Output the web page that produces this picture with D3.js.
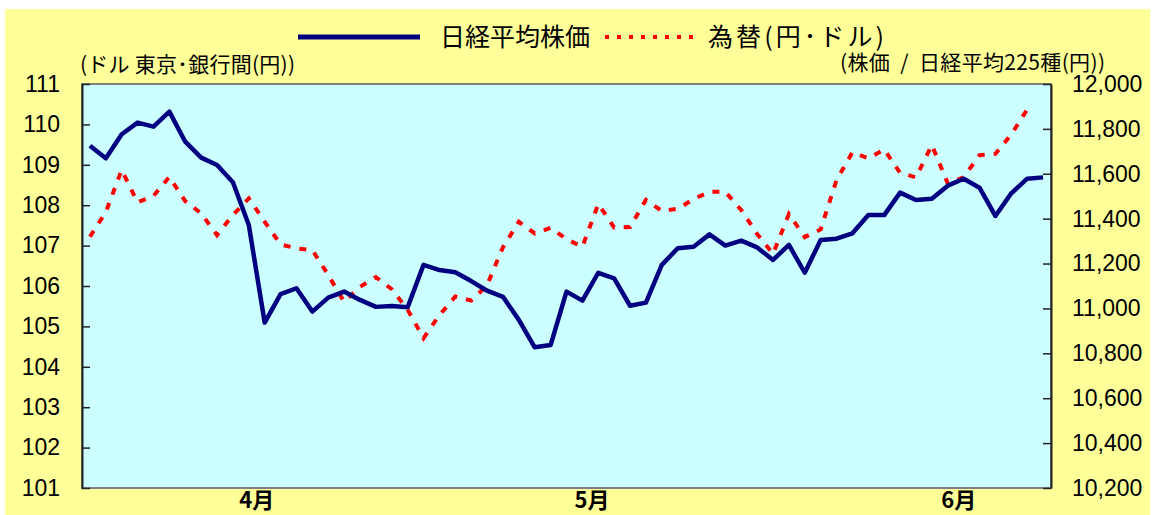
<!DOCTYPE html>
<html>
<head>
<meta charset="utf-8">
<script src="https://cdn.jsdelivr.net/npm/d3@7"></script>
<style>
body { margin: 0; background: #fff; }
svg { display: block; }
text { font-family: "Liberation Sans", Arial, "Noto Sans CJK JP", sans-serif; fill: #000; }
.jp { font-family: "Noto Sans CJK JP", "Liberation Sans", sans-serif; }
</style>
</head>
<body>
<script>
// 日経平均株価 (右軸, 円)
var nikkei = [11725, 11669, 11776, 11828, 11810, 11877, 11743, 11672, 11639, 11562,
    11372, 10937, 11064, 11090, 10986, 11048, 11075, 11038, 11007, 11011,
    11005, 11194, 11171, 11161, 11122, 11079, 11052, 10949, 10827, 10837,
    11075, 11035, 11159, 11134, 11012, 11026, 11194, 11268, 11275, 11330,
    11280, 11302, 11272, 11216, 11283, 11159, 11305, 11311, 11335, 11416,
    11416, 11516, 11483, 11489, 11547, 11578, 11538, 11412, 11513, 11578,
    11584];
// 為替 円/ドル (左軸)
var yen = [107.22, 107.83, 108.87, 108.07, 108.23, 108.70, 108.10, 107.80, 107.26, 107.76,
    108.17, 107.59, 107.03, 106.93, 106.89, 106.27, 105.61, 105.98, 106.22, 105.92,
    105.41, 104.71, 105.28, 105.74, 105.64, 106.02, 106.96, 107.59, 107.30, 107.44,
    107.16, 106.97, 108.03, 107.45, 107.46, 108.13, 107.86, 107.91, 108.15, 108.33,
    108.33, 107.88, 107.29, 106.79, 107.78, 107.21, 107.40, 108.62, 109.31, 109.16,
    109.38, 108.80, 108.69, 109.49, 108.54, 108.69, 109.24, 109.27, 109.75, 110.37];

var monthLabels = ['4月', '5月', '6月'];
var monthAt = [10.5, 31.6, 54.7];   // 日の位置 (index)
var leftTicks = d3.range(101, 112, 1);
var rightTicks = d3.range(10200, 12001, 200);

var W = 1154, H = 515;
var L = 82, R = 1051, T = 84, B = 488;

var svg = d3.select('body').append('svg').attr('width', W).attr('height', H);

// chart area
svg.append('rect').attr('x', 5).attr('y', 9).attr('width', 1145).attr('height', H - 9).attr('fill', '#ffff99');
svg.append('rect').attr('x', L).attr('y', T).attr('width', R - L).attr('height', B - T)
    .attr('fill', '#ccffff').attr('stroke', '#808080').attr('stroke-width', 2);

var x = d3.scaleLinear().domain([-0.5, nikkei.length - 0.5]).range([L, R]);
var yL = d3.scaleLinear().domain([101, 111]).range([B, T]);
var yR = d3.scaleLinear().domain([10200, 12000]).range([B, T]);

var axL = svg.append('g').attr('transform', 'translate(' + L + ',0)')
    .call(d3.axisLeft(yL).tickValues(leftTicks).tickFormat(d3.format('d'))
        .tickSizeInner(-8).tickSizeOuter(0).tickPadding(22));
var axR = svg.append('g').attr('transform', 'translate(' + R + ',0)')
    .call(d3.axisRight(yR).tickValues(rightTicks).tickFormat(d3.format(','))
        .tickSizeInner(-8).tickSizeOuter(0).tickPadding(21));
[axL, axR].forEach(function(ax){
    ax.select('.domain').attr('stroke', '#222').attr('stroke-width', 2);
    ax.selectAll('.tick line').attr('stroke', '#222').attr('stroke-width', 1.5);
    ax.selectAll('.tick text').attr('font-size', 23).attr('font-family', '"Liberation Sans", Arial, sans-serif').attr('fill', '#000');
});

// month labels
svg.selectAll('.month').data(monthLabels).enter().append('text')
    .attr('class', 'month jp')
    .attr('x', function(d, i){ return x(monthAt[i]); })
    .attr('y', 508)
    .attr('text-anchor', 'middle')
    .attr('font-size', 22).attr('font-weight', 'bold')
    .text(function(d){ return d; });

// lines
var lineYen = d3.line().x(function(d, i){ return x(i); }).y(function(d){ return yL(d); });
var lineNk = d3.line().x(function(d, i){ return x(i); }).y(function(d){ return yR(d); });

svg.append('path').datum(yen).attr('d', lineYen)
    .attr('fill', 'none').attr('stroke', '#ff0000').attr('stroke-width', 4)
    .attr('stroke-dasharray', '7,9');
svg.append('path').datum(nikkei).attr('d', lineNk)
    .attr('fill', 'none').attr('stroke', '#000080').attr('stroke-width', 4.5)
    .attr('stroke-linejoin', 'round');

// axis titles
svg.append('text').attr('class', 'jp').attr('x', 80).attr('y', 72).attr('font-size', 21)
    .attr('textLength', 215).attr('lengthAdjust', 'spacing')
    .text('(ドル 東京･銀行間(円))');
svg.append('text').attr('class', 'jp').attr('x', 840).attr('y', 70).attr('font-size', 21)
    .attr('textLength', 265).attr('lengthAdjust', 'spacing')
    .attr('xml:space', 'preserve')
    .text('(株価  /  日経平均225種(円))');

// legend
var legend = svg.append('g');
legend.append('line').attr('x1', 298).attr('x2', 420).attr('y1', 37).attr('y2', 37)
    .attr('stroke', '#000080').attr('stroke-width', 5);
legend.append('text').attr('class', 'jp').attr('x', 440).attr('y', 46).attr('font-size', 25)
    .text('日経平均株価');
legend.append('line').attr('x1', 605).attr('x2', 700).attr('y1', 37).attr('y2', 37)
    .attr('stroke', '#ff0000').attr('stroke-width', 4).attr('stroke-dasharray', '4,8');
legend.append('text').attr('class', 'jp').attr('x', 708).attr('y', 46).attr('font-size', 25)
    .attr('textLength', 176).attr('lengthAdjust', 'spacing')
    .text('為替(円･ドル)');
</script>
</body>
</html>
